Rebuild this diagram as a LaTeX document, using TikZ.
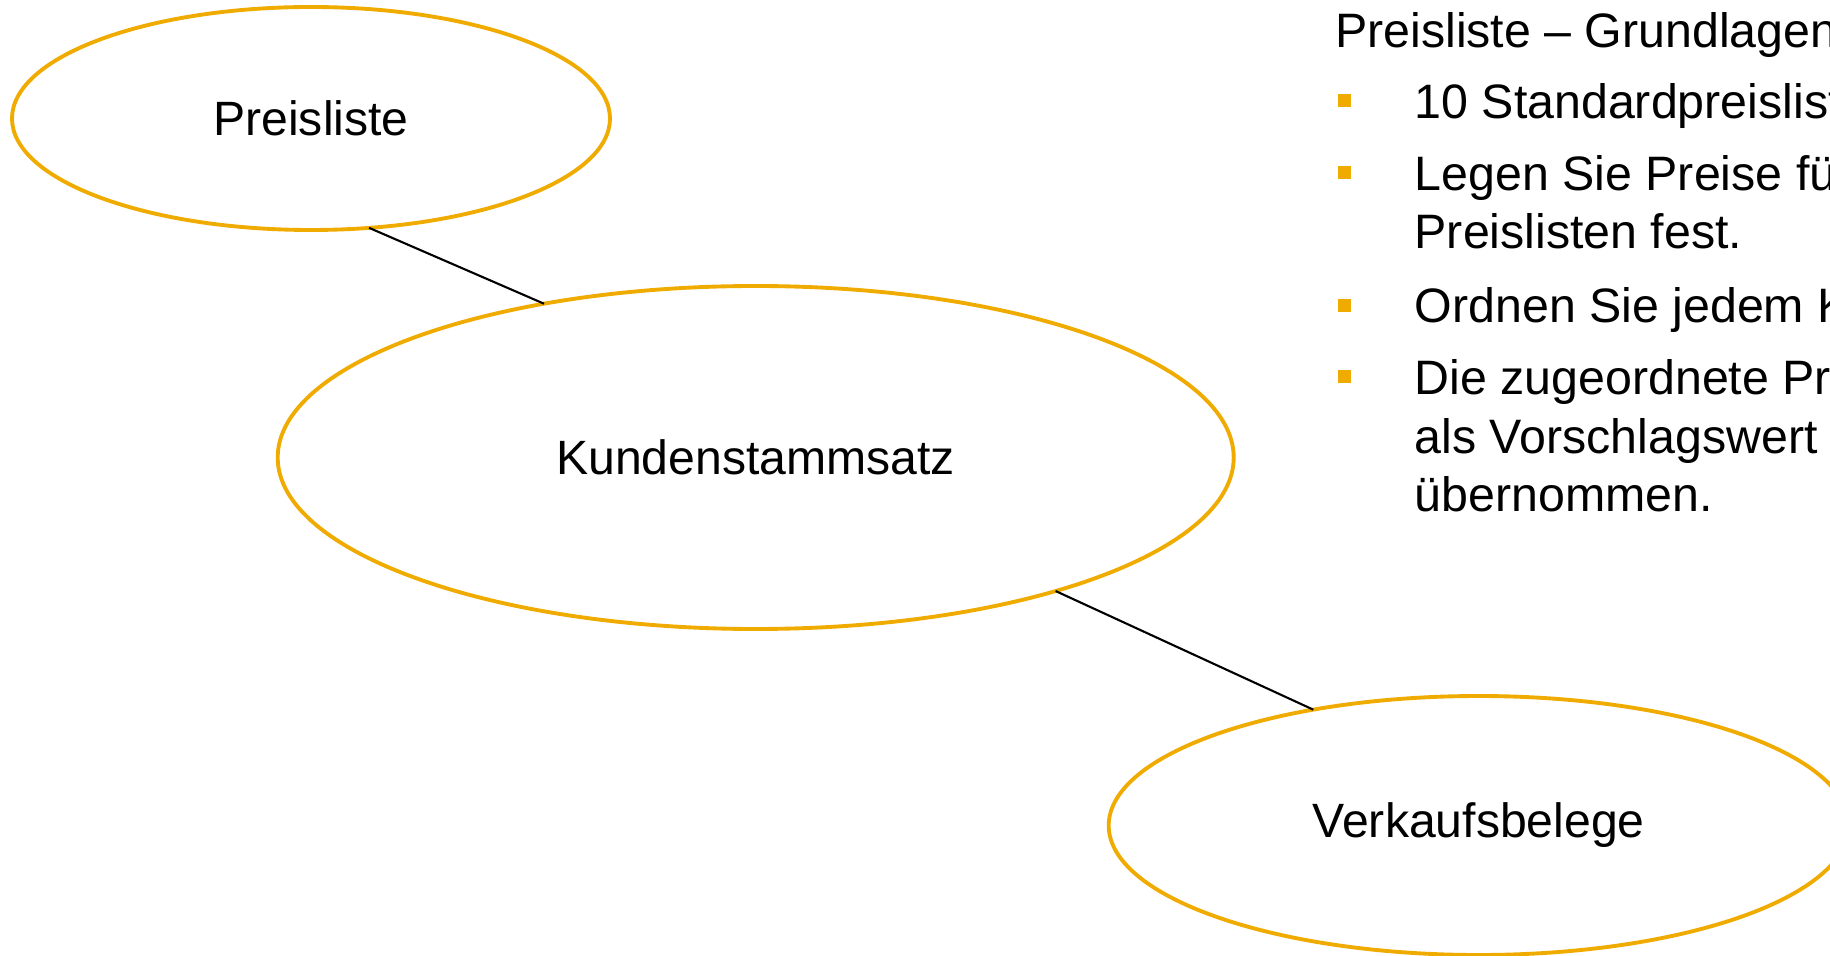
\documentclass[tikz,border=0pt]{standalone}
\usepackage{fontspec}
\setmainfont{Liberation Sans}
\usetikzlibrary{shapes.geometric}
\usetikzlibrary{positioning}
\definecolor{sapgold}{RGB}{240,171,0}

\begin{document}
\begin{tikzpicture}[
    bubble/.style={ellipse, draw=sapgold, line width=1.1pt, outer sep=0pt, inner sep=0pt,
      font=\fontsize{13.7}{16.1}\selectfont},
    link/.style={draw=black, line width=0.6pt},
    dot/.style={fill=sapgold, minimum size=0.13cm, inner sep=0pt, outer sep=0pt},
    txt/.style={anchor=base west, inner sep=0pt, align=left,
      font=\fontsize{13.75}{16.6}\selectfont}
  ]
      \useasboundingbox (0, 0) rectangle (18.3, -9.56);
      \clip (0, 0) rectangle (18.3, -9.56);

      \node[bubble, minimum width=5.98cm, minimum height=2.23cm] (pl) at (3.11, -1.185) {Preisliste};
      \node[bubble, minimum width=9.56cm, minimum height=3.43cm] (ks) at (7.557, -4.575) {Kundenstammsatz};
      \node[bubble, minimum width=7.40cm, minimum height=2.59cm] (vb) at (14.787, -8.255) {Verkaufsbelege};

      \draw[link] (pl.-62) -- (ks.144);
      \draw[link] (ks.-24.4) -- (vb.145.3);

      % Textblock rechts (base = Grundlinie der letzten Zeile)
      \node[txt] (title) at (13.345, -0.473) {Preisliste -- Grundlagen};

      \node[dot] (d1) at (13.44, -1.005) {};
      \node[dot] (d2) at (13.44, -1.728) {};
      \node[dot] (d3) at (13.44, -3.052) {};
      \node[dot] (d4) at (13.44, -3.768) {};

      \node[txt] (t1) at (14.14, -1.183) {10 Standardpreislisten};
      \node[txt] (t2) at (14.14, -2.49) {Legen Sie Preise für die\\Preislisten fest.};
      \node[txt] (t3) at (14.14, -3.23) {Ordnen Sie jedem Kunden eine Preisliste zu.};
      \node[txt] (t4) at (14.14, -5.114) {Die zugeordnete Preisliste wird\\als Vorschlagswert in die Belege\\übernommen.};
    \end{tikzpicture}
\end{document}
